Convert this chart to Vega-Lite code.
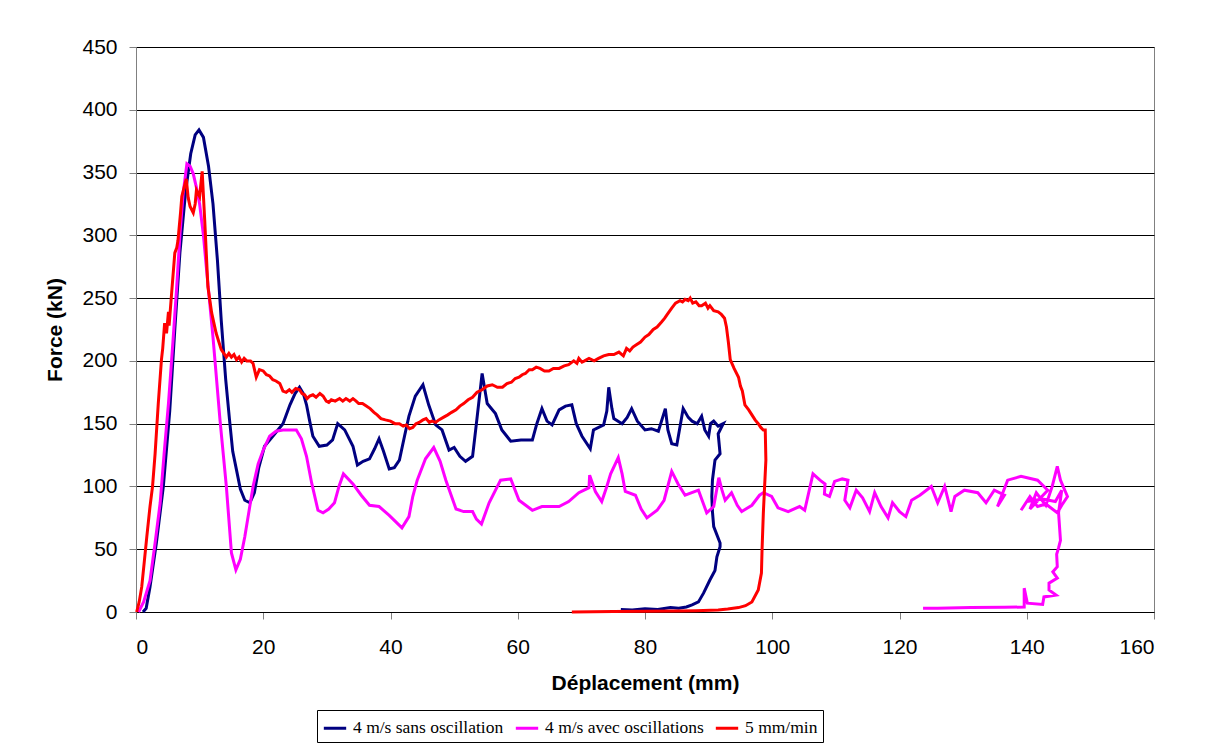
{
  "$schema": "https://vega.github.io/schema/vega-lite/v6.json",
  "autosize": {"type": "none"},
  "padding": {"left": 136, "top": 47, "right": 56, "bottom": 141},
  "width": 1018,
  "height": 565,
  "background": "white",
  "config": {
    "view": {"stroke": "#808080", "strokeWidth": 1},
    "font": "Liberation Sans"
  },
  "datasets": {
    "blue": [
      {"x":1.1,"y":0},{"x":1.6,"y":3},{"x":2.2,"y":20},{"x":3.2,"y":55},{"x":4.3,"y":100},{"x":5.3,"y":160},{"x":6.1,"y":225},{"x":6.9,"y":286},{"x":7.8,"y":335},{"x":8.6,"y":365},{"x":9.3,"y":380},{"x":9.9,"y":384},{"x":10.6,"y":378},{"x":11.4,"y":355},{"x":12.1,"y":325},{"x":12.8,"y":280},{"x":13.4,"y":232},{"x":14.1,"y":185},{"x":14.7,"y":153},{"x":15.2,"y":128},{"x":15.8,"y":113},{"x":16.4,"y":98},{"x":17.1,"y":89},{"x":17.9,"y":87},{"x":18.6,"y":95},{"x":19.3,"y":115},{"x":20.2,"y":132},{"x":21.5,"y":140},{"x":23.1,"y":150},{"x":24.2,"y":165},{"x":25.0,"y":174},{"x":25.7,"y":179},{"x":26.3,"y":174},{"x":26.8,"y":165},{"x":27.3,"y":152},{"x":27.8,"y":140},{"x":28.8,"y":132},{"x":30.0,"y":133},{"x":30.9,"y":137},{"x":31.7,"y":150},{"x":32.8,"y":145},{"x":34.1,"y":132},{"x":34.8,"y":117},{"x":35.7,"y":120},{"x":36.7,"y":122},{"x":37.5,"y":130},{"x":38.2,"y":138},{"x":38.9,"y":128},{"x":39.8,"y":114},{"x":40.6,"y":115},{"x":41.4,"y":121},{"x":42.2,"y":140},{"x":42.9,"y":156},{"x":43.9,"y":172},{"x":45.1,"y":181},{"x":46.0,"y":165},{"x":47.1,"y":149},{"x":48.1,"y":145},{"x":49.2,"y":129},{"x":50.0,"y":131},{"x":50.9,"y":124},{"x":51.8,"y":120},{"x":52.9,"y":124},{"x":53.5,"y":150},{"x":54.4,"y":190},{"x":55.2,"y":166},{"x":56.5,"y":158},{"x":57.5,"y":145},{"x":58.9,"y":136},{"x":60.5,"y":137},{"x":62.3,"y":137},{"x":63.0,"y":150},{"x":63.8,"y":162},{"x":64.6,"y":152},{"x":65.4,"y":149},{"x":66.5,"y":161},{"x":67.5,"y":164},{"x":68.5,"y":165},{"x":69.2,"y":150},{"x":70.1,"y":140},{"x":71.4,"y":130},{"x":71.9,"y":145},{"x":73.5,"y":149},{"x":74.0,"y":160},{"x":74.3,"y":179},{"x":74.8,"y":162},{"x":75.1,"y":154},{"x":76.4,"y":150},{"x":77.2,"y":155},{"x":77.9,"y":162},{"x":78.8,"y":152},{"x":80.0,"y":145},{"x":81.0,"y":146},{"x":82.1,"y":144},{"x":83.2,"y":162},{"x":83.6,"y":145},{"x":84.2,"y":134},{"x":85.0,"y":133},{"x":86.0,"y":162},{"x":86.8,"y":155},{"x":87.4,"y":152},{"x":88.2,"y":150},{"x":88.9,"y":156},{"x":89.4,"y":145},{"x":90.0,"y":140},{"x":90.3,"y":150},{"x":90.8,"y":152},{"x":91.5,"y":148},{"x":92.3,"y":150},{"x":91.5,"y":142},{"x":91.8,"y":126},{"x":91.0,"y":121},{"x":90.6,"y":105},{"x":90.5,"y":92},{"x":90.6,"y":80},{"x":90.8,"y":68},{"x":91.8,"y":55},{"x":91.8,"y":52},{"x":91.3,"y":44},{"x":91.0,"y":33},{"x":90.2,"y":25.5},{"x":89.2,"y":15},{"x":88.4,"y":8},{"x":87.4,"y":5.6},{"x":86.5,"y":4},{"x":85.3,"y":3},{"x":84.0,"y":3.5},{"x":82.0,"y":2},{"x":80.0,"y":2.5},{"x":78.0,"y":1.5},{"x":76.2,"y":2}
    ],
    "magenta": [
      {"x":0.4,"y":0},{"x":1.2,"y":8},{"x":2.2,"y":25},{"x":3.0,"y":55},{"x":3.8,"y":87},{"x":4.4,"y":125},{"x":5.1,"y":166},{"x":5.8,"y":215},{"x":6.4,"y":259},{"x":6.9,"y":300},{"x":7.4,"y":333},{"x":8.0,"y":357},{"x":8.5,"y":355},{"x":9.0,"y":349},{"x":9.5,"y":338},{"x":10.0,"y":325},{"x":10.6,"y":300},{"x":11.1,"y":272},{"x":12.1,"y":219},{"x":13.2,"y":153},{"x":14.2,"y":100},{"x":15.0,"y":47},{"x":15.7,"y":33.5},{"x":16.4,"y":42},{"x":17.1,"y":60},{"x":18.4,"y":100},{"x":19.2,"y":118},{"x":20.0,"y":129},{"x":21.0,"y":140},{"x":22.0,"y":144},{"x":23.1,"y":145},{"x":25.2,"y":145},{"x":26.0,"y":138},{"x":26.8,"y":124},{"x":27.6,"y":103},{"x":28.6,"y":81},{"x":29.4,"y":79},{"x":30.3,"y":82},{"x":31.2,"y":87},{"x":31.9,"y":100},{"x":32.6,"y":110},{"x":34.1,"y":102},{"x":35.4,"y":93},{"x":36.7,"y":85},{"x":38.2,"y":84},{"x":39.8,"y":77},{"x":40.8,"y":72},{"x":41.8,"y":67},{"x":42.9,"y":76},{"x":43.5,"y":92},{"x":44.2,"y":105},{"x":45.5,"y":122},{"x":46.8,"y":131},{"x":47.8,"y":120},{"x":48.7,"y":105},{"x":50.3,"y":82},{"x":51.5,"y":80},{"x":52.9,"y":80},{"x":53.5,"y":74},{"x":54.3,"y":70},{"x":55.5,"y":87},{"x":57.3,"y":105},{"x":58.9,"y":106},{"x":60.2,"y":89},{"x":62.3,"y":81},{"x":63.8,"y":84},{"x":65.5,"y":84},{"x":66.5,"y":84},{"x":68.0,"y":88},{"x":69.6,"y":95},{"x":71.2,"y":99},{"x":71.3,"y":109},{"x":72.2,"y":96},{"x":73.2,"y":88},{"x":74.0,"y":100},{"x":74.6,"y":110},{"x":75.8,"y":123},{"x":76.4,"y":110},{"x":76.9,"y":96},{"x":78.5,"y":93},{"x":79.4,"y":82},{"x":80.3,"y":75},{"x":81.9,"y":81},{"x":83.0,"y":89},{"x":84.2,"y":112},{"x":85.2,"y":102},{"x":86.3,"y":93},{"x":88.4,"y":97},{"x":89.7,"y":79},{"x":90.8,"y":84},{"x":91.6,"y":107},{"x":92.1,"y":97},{"x":92.6,"y":89},{"x":93.6,"y":95},{"x":94.5,"y":85},{"x":95.2,"y":80},{"x":96.8,"y":85},{"x":98.0,"y":93},{"x":98.6,"y":95},{"x":99.9,"y":92},{"x":100.9,"y":83},{"x":102.5,"y":80},{"x":104.3,"y":84},{"x":105.1,"y":81},{"x":106.4,"y":110},{"x":107.5,"y":105},{"x":108.3,"y":102},{"x":108.2,"y":94},{"x":109.0,"y":92},{"x":109.8,"y":104},{"x":111.0,"y":106},{"x":111.9,"y":105},{"x":111.4,"y":89},{"x":112.2,"y":83},{"x":113.2,"y":97},{"x":114.2,"y":91},{"x":115.3,"y":80},{"x":116.1,"y":95},{"x":117.1,"y":84},{"x":118.2,"y":75},{"x":118.9,"y":87},{"x":120.0,"y":80},{"x":121.0,"y":76},{"x":121.9,"y":89},{"x":123.2,"y":93},{"x":125.0,"y":100},{"x":126.0,"y":87},{"x":127.1,"y":100},{"x":128.1,"y":80},{"x":128.7,"y":92},{"x":130.2,"y":97},{"x":132.3,"y":95},{"x":133.6,"y":87},{"x":134.9,"y":97},{"x":136.5,"y":93},{"x":135.4,"y":84},{"x":137.0,"y":105},{"x":139.1,"y":108},{"x":141.7,"y":105},{"x":143.3,"y":97},{"x":142.0,"y":90},{"x":140.5,"y":82},{"x":141.5,"y":95},{"x":143.0,"y":85},{"x":144.0,"y":100},{"x":144.8,"y":116},{"x":145.3,"y":105},{"x":146.4,"y":92},{"x":145.5,"y":85},{"x":144.8,"y":79},{"x":143.0,"y":86},{"x":141.7,"y":84},{"x":140.5,"y":92},{"x":139.1,"y":81},{"x":140.0,"y":88},{"x":142.5,"y":90},{"x":144.5,"y":88},{"x":145.5,"y":97},{"x":145.0,"y":79},{"x":145.3,"y":57},{"x":145.0,"y":51},{"x":144.7,"y":46},{"x":144.8,"y":36},{"x":144.1,"y":32},{"x":144.8,"y":27},{"x":143.5,"y":23},{"x":143.5,"y":17.5},{"x":144.6,"y":13.5},{"x":142.7,"y":12},{"x":142.5,"y":6},{"x":140.1,"y":7},{"x":139.6,"y":19},{"x":139.6,"y":4},{"x":136.5,"y":3.7},{"x":131.2,"y":3.5},{"x":126.0,"y":3},{"x":123.7,"y":3}
    ],
    "red": [
      {"x":0.1,"y":0},{"x":0.5,"y":8},{"x":0.9,"y":20},{"x":1.3,"y":40},{"x":1.7,"y":60},{"x":2.2,"y":84},{"x":2.6,"y":100},{"x":3.0,"y":126},{"x":3.5,"y":166},{"x":4.0,"y":201},{"x":4.2,"y":210},{"x":4.5,"y":230},{"x":4.8,"y":222},{"x":5.1,"y":239},{"x":5.2,"y":228},{"x":5.6,"y":254},{"x":6.1,"y":286},{"x":6.4,"y":290},{"x":6.6,"y":296},{"x":7.0,"y":318},{"x":7.2,"y":331},{"x":7.5,"y":337},{"x":7.9,"y":345},{"x":8.2,"y":330},{"x":8.5,"y":323},{"x":9.0,"y":318},{"x":9.3,"y":325},{"x":9.5,"y":336},{"x":10.0,"y":331},{"x":10.4,"y":351},{"x":10.8,"y":312},{"x":11.3,"y":259},{"x":11.9,"y":238},{"x":12.6,"y":222},{"x":13.4,"y":209},{"x":14.2,"y":203},{"x":14.6,"y":206},{"x":15.0,"y":203},{"x":15.4,"y":205},{"x":15.8,"y":201},{"x":16.2,"y":203},{"x":16.6,"y":199},{"x":17.0,"y":202},{"x":17.4,"y":200},{"x":18.0,"y":200},{"x":18.4,"y":198},{"x":18.9,"y":187},{"x":19.4,"y":193},{"x":20.0,"y":192},{"x":20.5,"y":189},{"x":21.0,"y":188},{"x":21.5,"y":185},{"x":22.0,"y":184},{"x":22.6,"y":182},{"x":23.1,"y":176},{"x":23.6,"y":175},{"x":24.1,"y":177},{"x":24.5,"y":175},{"x":25.1,"y":178},{"x":25.7,"y":177},{"x":26.1,"y":174},{"x":26.5,"y":173},{"x":26.9,"y":170},{"x":27.3,"y":172},{"x":27.8,"y":173},{"x":28.3,"y":171},{"x":28.9,"y":174},{"x":29.4,"y":172},{"x":29.9,"y":168},{"x":30.3,"y":167},{"x":30.7,"y":169},{"x":31.3,"y":168},{"x":32.0,"y":170},{"x":32.5,"y":168},{"x":33.0,"y":170},{"x":33.6,"y":168},{"x":34.1,"y":170},{"x":34.6,"y":168},{"x":35.0,"y":166},{"x":35.6,"y":166},{"x":36.2,"y":164},{"x":36.8,"y":162},{"x":37.4,"y":159},{"x":37.9,"y":157},{"x":38.5,"y":154},{"x":39.2,"y":153},{"x":40.0,"y":152},{"x":40.7,"y":150},{"x":41.4,"y":150},{"x":42.0,"y":148},{"x":42.5,"y":149},{"x":43.0,"y":146},{"x":43.5,"y":147},{"x":44.0,"y":150},{"x":44.5,"y":151},{"x":45.1,"y":153},{"x":45.6,"y":154},{"x":46.1,"y":151},{"x":46.5,"y":152},{"x":47.1,"y":151},{"x":47.6,"y":153},{"x":48.3,"y":155},{"x":49.0,"y":157},{"x":49.6,"y":159},{"x":50.3,"y":161},{"x":50.9,"y":164},{"x":51.5,"y":166},{"x":52.2,"y":169},{"x":52.9,"y":171},{"x":53.6,"y":175},{"x":54.4,"y":177},{"x":55.2,"y":180},{"x":56.0,"y":181},{"x":56.8,"y":179},{"x":57.6,"y":179},{"x":58.3,"y":182},{"x":59.0,"y":183},{"x":59.6,"y":186},{"x":60.2,"y":187},{"x":60.7,"y":189},{"x":61.2,"y":190},{"x":61.8,"y":193},{"x":62.3,"y":193},{"x":62.9,"y":195},{"x":63.5,"y":194},{"x":64.2,"y":192},{"x":64.9,"y":192},{"x":65.6,"y":194},{"x":66.5,"y":194},{"x":67.3,"y":196},{"x":68.0,"y":197},{"x":68.8,"y":200},{"x":69.3,"y":198},{"x":69.6,"y":202},{"x":70.1,"y":199},{"x":70.5,"y":200},{"x":71.2,"y":202},{"x":72.0,"y":200},{"x":72.7,"y":202},{"x":73.5,"y":204},{"x":74.3,"y":205},{"x":75.1,"y":205},{"x":75.9,"y":207},{"x":76.6,"y":204},{"x":77.1,"y":210},{"x":77.6,"y":208},{"x":78.1,"y":211},{"x":78.7,"y":213},{"x":79.3,"y":215},{"x":80.0,"y":219},{"x":80.6,"y":221},{"x":81.3,"y":225},{"x":81.9,"y":227},{"x":82.6,"y":231},{"x":83.1,"y":234},{"x":83.5,"y":237},{"x":84.2,"y":242},{"x":84.8,"y":246},{"x":85.5,"y":248},{"x":85.9,"y":247},{"x":86.3,"y":249},{"x":86.8,"y":248},{"x":87.1,"y":250},{"x":87.5,"y":246},{"x":88.0,"y":247},{"x":88.5,"y":244},{"x":88.9,"y":244},{"x":89.5,"y":246},{"x":89.9,"y":242},{"x":90.2,"y":244},{"x":90.8,"y":240},{"x":91.5,"y":239},{"x":92.0,"y":237},{"x":92.5,"y":234},{"x":92.8,"y":227},{"x":93.1,"y":215},{"x":93.4,"y":201},{"x":94.0,"y":194},{"x":94.7,"y":187},{"x":95.0,"y":180},{"x":95.3,"y":176},{"x":95.7,"y":165},{"x":96.3,"y":161},{"x":96.8,"y":157},{"x":97.3,"y":153},{"x":97.8,"y":150},{"x":98.2,"y":147},{"x":98.6,"y":145},{"x":98.9,"y":145},{"x":99.0,"y":121},{"x":98.8,"y":100},{"x":98.6,"y":79},{"x":98.4,"y":50},{"x":98.3,"y":31},{"x":97.8,"y":17.5},{"x":96.8,"y":8},{"x":95.8,"y":5},{"x":94.7,"y":3.5},{"x":93.0,"y":2.4},{"x":91.5,"y":1.6},{"x":88.0,"y":1},{"x":85.3,"y":0.8},{"x":80.0,"y":0.5},{"x":75.0,"y":0.3},{"x":68.5,"y":0}
    ]
  },
  "layer": [
    {
      "data": {"name": "blue"},
      "transform": [{"window": [{"op": "row_number", "as": "i"}]}],
      "mark": {"type": "line", "strokeWidth": 3},
      "encoding": {
        "x": {"field": "x", "type": "quantitative"},
        "y": {"field": "y", "type": "quantitative"},
        "order": {"field": "i", "type": "quantitative"},
        "color": {"datum": "4 m/s sans oscillation"}
      }
    },
    {
      "data": {"name": "magenta"},
      "transform": [{"window": [{"op": "row_number", "as": "i"}]}],
      "mark": {"type": "line", "strokeWidth": 3},
      "encoding": {
        "x": {"field": "x", "type": "quantitative"},
        "y": {"field": "y", "type": "quantitative"},
        "order": {"field": "i", "type": "quantitative"},
        "color": {"datum": "4 m/s avec oscillations"}
      }
    },
    {
      "data": {"name": "red"},
      "transform": [{"window": [{"op": "row_number", "as": "i"}]}],
      "mark": {"type": "line", "strokeWidth": 3},
      "encoding": {
        "x": {"field": "x", "type": "quantitative"},
        "y": {"field": "y", "type": "quantitative"},
        "order": {"field": "i", "type": "quantitative"},
        "color": {"datum": "5 mm/min"}
      }
    }
  ],
  "encoding": {
    "x": {
      "field": "x", "type": "quantitative",
      "scale": {"domain": [0, 160], "nice": false, "zero": false},
      "axis": {
        "title": "Déplacement (mm)", "values": [0,20,40,60,80,100,120,140,160],
        "grid": false, "domainColor": "#000000", "tickColor": "#808080", "tickSize": 7,
        "labelFont": "Liberation Sans", "labelFontSize": 21, "labelColor": "#000000", "labelPadding": 17,
        "titleFont": "Liberation Sans", "titleFontSize": 21, "titleFontWeight": "bold", "titleColor": "#000000", "titlePadding": 15
      }
    },
    "y": {
      "field": "y", "type": "quantitative",
      "scale": {"domain": [0, 450], "nice": false},
      "axis": {
        "title": "Force (kN)", "values": [0,50,100,150,200,250,300,350,400,450],
        "grid": true, "gridColor": "#000000", "gridWidth": 1, "gridOpacity": 1,
        "domainColor": "#808080", "tickColor": "#808080", "tickSize": 7,
        "labelFont": "Liberation Sans", "labelFontSize": 21, "labelColor": "#000000", "labelPadding": 12,
        "titleFont": "Liberation Sans", "titleFontSize": 21, "titleFontWeight": "bold", "titleColor": "#000000", "titlePadding": 16
      }
    },
    "color": {
      "type": "nominal",
      "scale": {"domain": ["4 m/s sans oscillation", "4 m/s avec oscillations", "5 mm/min"], "range": ["#000080", "#FF00FF", "#FF0000"]},
      "legend": {
        "title": null, "orient": "none", "legendX": 181, "legendY": 663, "direction": "horizontal",
        "strokeColor": "#000000", "padding": 5, "symbolType": "stroke", "symbolSize": 500, "symbolStrokeWidth": 3,
        "labelFont": "Liberation Serif", "labelFontSize": 17.5, "labelColor": "#000000", "labelLimit": 400,
        "labelOffset": 5, "columnPadding": 5
      }
    }
  }
}
